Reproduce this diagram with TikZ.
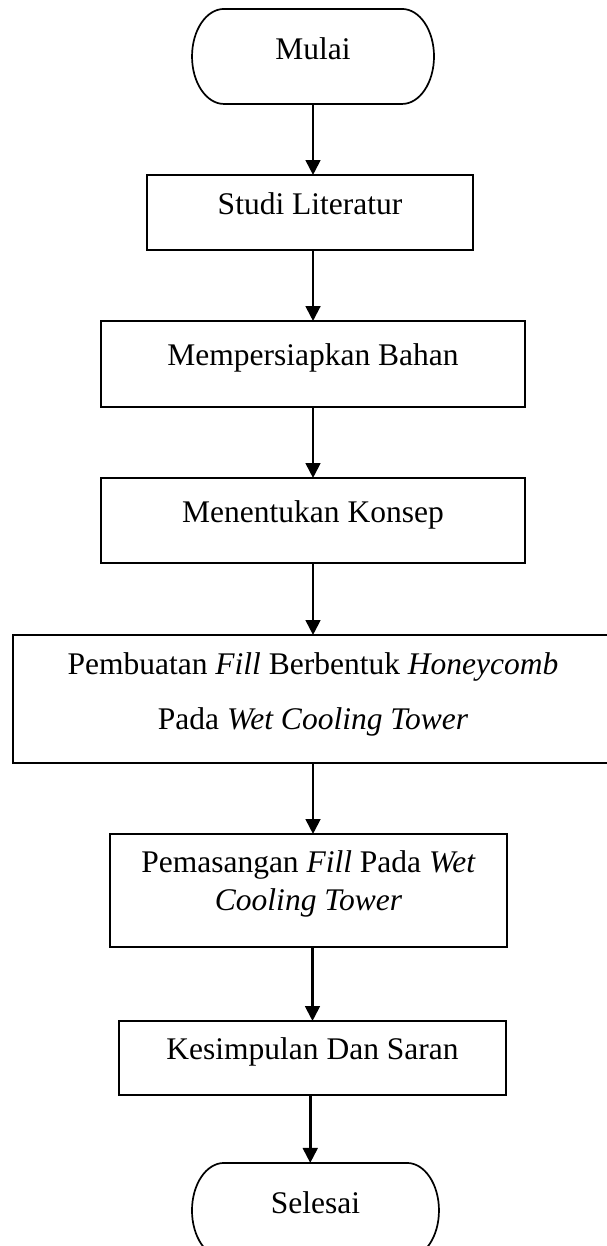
\documentclass[tikz,border=0pt]{standalone}
\usepackage{fontspec}
\setmainfont{Liberation Serif}
\usepackage{tikz}
\usetikzlibrary{arrows.meta}

\begin{document}
\begin{tikzpicture}[inner sep=0, outer sep=0,
    kotak/.style={draw, line width=0.65pt, minimum width=#1, align=center,
        font=\fontsize{12}{14.5}\selectfont, text height=8.4pt, text depth=7.2pt},
    terminal/.style={minimum width=#1, minimum height=1.272cm,
        font=\fontsize{12}{14.5}\selectfont, text height=8.4pt, text depth=6pt},
    garis/.style={line width=0.65pt},
    panah/.style={-{Triangle[length=5.7pt, width=5.6pt]}, line width=1pt}]
    \useasboundingbox (0,0) rectangle (8.114,-16.683);
    % node
    \node[terminal=3.240cm] (mulai) at (4.191,-0.756) {Mulai};
    \node[kotak=4.365cm, minimum height=1.004cm] (studi) at (4.151,-2.845) {Studi Literatur};
    \node[kotak=5.677cm, minimum height=1.151cm] (bahan) at (4.191,-4.874) {Mempersiapkan Bahan};
    \node[kotak=5.677cm, minimum height=1.138cm] (konsep) at (4.191,-6.969) {Menentukan Konsep};
    \node[kotak=8.033cm, minimum height=1.714cm, font=\fontsize{12}{20.95}\selectfont,
        text height=30.8pt] (pembuatan) at (4.191,-9.359)
        {Pembuatan \textit{Fill} Berbentuk \textit{Honeycomb}\\Pada \textit{Wet Cooling Tower}};
    \node[kotak=5.315cm, minimum height=1.513cm, text height=22.8pt] (pemasangan) at (4.131,-11.923)
        {Pemasangan \textit{Fill} Pada \textit{Wet}\\\textit{Cooling Tower}};
    \node[kotak=5.182cm, minimum height=0.991cm] (kesimpulan) at (4.184,-14.166) {Kesimpulan Dan Saran};
    \node[terminal=3.307cm] (selesai) at (4.224,-16.207) {Selesai};
    % awal dan akhir
    \draw[garis] ([xshift=0.428cm]mulai.north west) -- ([xshift=-0.428cm]mulai.north east)
        arc (90:-90:0.428cm and 0.636cm) -- ([xshift=0.428cm]mulai.south west)
        arc (270:90:0.428cm and 0.636cm) -- cycle;
    \draw[garis] ([xshift=0.428cm]selesai.north west) -- ([xshift=-0.428cm]selesai.north east)
        arc (90:-90:0.428cm and 0.636cm) -- ([xshift=0.428cm]selesai.south west)
        arc (270:90:0.428cm and 0.636cm) -- cycle;
    % panah
    \draw[panah] (mulai.south) -- (mulai.south |- studi.north);
    \draw[panah] (bahan.north |- studi.south) -- (bahan.north);
    \draw[panah] (bahan.south) -- (konsep.north);
    \draw[panah] (konsep.south) -- (konsep.south |- pembuatan.north);
    \draw[panah] (pembuatan.south) -- (pembuatan.south |- pemasangan.north);
    \draw[panah] (kesimpulan.north |- pemasangan.south) -- (kesimpulan.north);
    \draw[panah] ([xshift=-0.03cm]kesimpulan.south) -- ([xshift=-0.03cm]kesimpulan.south |- selesai.north);
\end{tikzpicture}
\end{document}
